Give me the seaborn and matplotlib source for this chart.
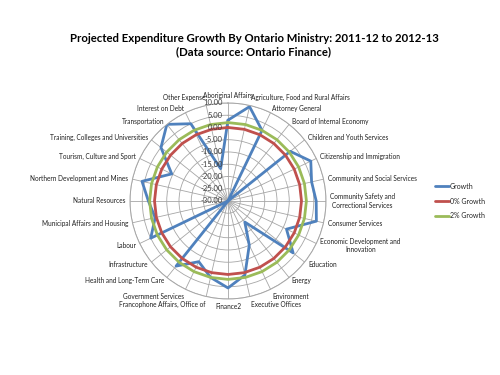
import numpy as np
import pandas as pd
import matplotlib
matplotlib.use("Agg")
import matplotlib.pyplot as plt
import seaborn as sns

# -------------------------
# Data
# -------------------------
ministries = [
    "Aboriginal Affairs", "Agriculture, Food and Rural Affairs", "Attorney General",
    "Board of Internal Economy", "Children and Youth Services", "Citizenship and Immigration",
    "Community and Social Services", "Community Safety and\nCorrectional Services",
    "Consumer Services", "Economic Development and\nInnovation", "Education", "Energy",
    "Environment", "Executive Offices", "Finance2", "Francophone Affairs, Office of",
    "Government Services", "Health and Long-Term Care", "Infrastructure", "Labour",
    "Municipal Affairs and Housing", "Natural Resources", "Northern Development and Mines",
    "Tourism, Culture and Sport", "Training, Colleges and Universities", "Transportation",
    "Interest on Debt", "Other Expense",
]
growth = [3.0, 9.5, 2.0, -30.0, 2.5, 7.5, 5.0, 6.0, 7.0, -3.5, 4.0, -19.0,
          -10.0, 1.0, 5.5, 2.0, -2.5, 4.0, -30.0, 5.0, 0.5, 2.5, 6.0, -4.5,
          5.0, 10.0, 5.0, -16.5]
zero_growth = [0.0, 0.0, 0.0, 0.0, 0.0, 0.0, 0.0, 0.0, 0.0, 0.0, 0.0, 0.0, 0.0, 0.0,
               0.0, 0.0, 0.0, 0.0, 0.0, 0.0, 0.0, 0.0, 0.0, 0.0, 0.0, 0.0, 0.0, 0.0]
two_growth = [2.0, 2.0, 2.0, 2.0, 2.0, 2.0, 2.0, 2.0, 2.0, 2.0, 2.0, 2.0, 2.0, 2.0,
              2.0, 2.0, 2.0, 2.0, 2.0, 2.0, 2.0, 2.0, 2.0, 2.0, 2.0, 2.0, 2.0, 2.0]
series_names = ["Growth", "0% Growth", "2% Growth"]
r_ticks = [-30, -25, -20, -15, -10, -5, 0, 5, 10]

colors = {"Growth": "#4f81bd", "0% Growth": "#c0504d", "2% Growth": "#9bbb59"}

# -------------------------
# Long-form table, each series closed back to its first point
# -------------------------
n = len(ministries)
angles = np.linspace(0, 2 * np.pi, n, endpoint=False)
rows = []
for name, vals in zip(series_names, [growth, zero_growth, two_growth]):
    for a, v in zip(list(angles) + [2 * np.pi], list(vals) + [vals[0]]):
        rows.append({"angle": a, "value": v, "series": name})
df = pd.DataFrame(rows)

sns.set_style("white")
plt.rcParams['font.family'] = ['Lato', 'DejaVu Sans']

fig = plt.figure(figsize=(5, 3.75), dpi=100)
ax = fig.add_axes([0.26, 0.2027, 0.392, 0.5227], projection='polar')
ax.set_theta_zero_location('N')
ax.set_theta_direction(-1)

sns.lineplot(data=df, x='angle', y='value', hue='series', palette=colors,
             sort=False, estimator=None, linewidth=2, ax=ax)

ax.set_ylim(-30, 10)
ax.set_xticks(angles)
ax.set_xticklabels([])
ax.set_yticks(r_ticks)
ax.set_yticklabels([])
ax.set_xlabel("")
ax.set_ylabel("")
ax.grid(True, color='#a6a6a6', linewidth=0.6)
ax.spines['polar'].set_color('#a6a6a6')
ax.spines['polar'].set_linewidth(0.7)

# radial value labels along the top spoke
for t in r_ticks:
    ax.annotate(f"{t:.2f}", xy=(0, t), xytext=(-4, 0), textcoords='offset points',
                ha='right', va='center', fontsize=5.5, color='#404040')

# category labels round the outside
for a, name in zip(angles, ministries):
    s, c = np.sin(a), np.cos(a)
    if abs(s) < 0.05:
        ha = 'center'
    elif s > 0:
        ha = 'left'
    else:
        ha = 'right'
    if c > 0.95:
        va = 'bottom'
    elif c < -0.85:
        va = 'top'
    else:
        va = 'center'
    ax.annotate(name, xy=(a, 10), xytext=(3 * s, 3 * c), textcoords='offset points',
                ha=ha, va=va, multialignment='center', fontsize=4.7, color='#202020',
                annotation_clip=False)

handles, labels = ax.get_legend_handles_labels()
ax.legend(handles, labels, loc='center left', bbox_to_anchor=(0.858, 0.464),
          bbox_transform=fig.transFigure, frameon=False, fontsize=5,
          handlelength=2.0, handletextpad=0.1, labelspacing=1.1)

fig.text(0.508, 0.881, "Projected Expenditure Growth By Ontario Ministry: 2011-12 to 2012-13\n"
         "(Data source: Ontario Finance)", ha='center', va='center', color='black',
         fontsize=8.2, fontweight='bold', linespacing=1.25)

fig.savefig("out.png", dpi=100)
